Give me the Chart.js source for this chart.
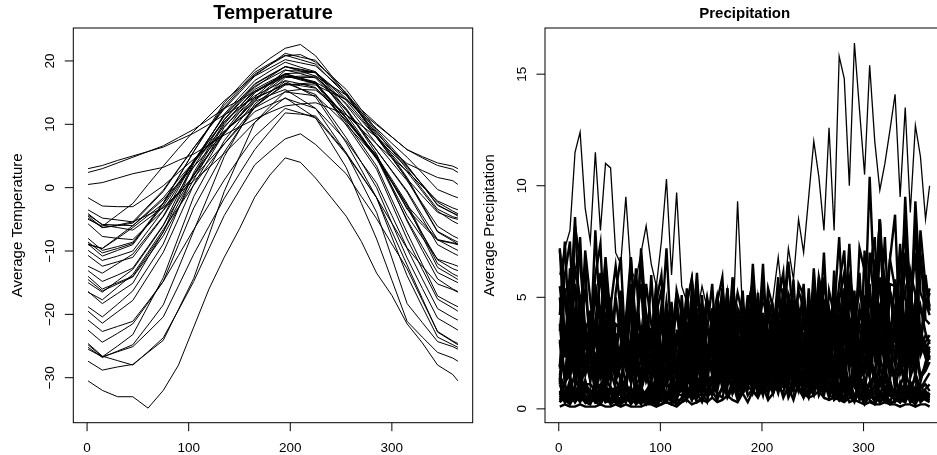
<!DOCTYPE html>
<html>
<head>
<meta charset="utf-8">
<title>Canadian weather: temperature and precipitation</title>
<script src="https://cdn.jsdelivr.net/npm/chart.js@4.4.1/dist/chart.umd.min.js"></script>
<style>
  html, body { margin: 0; padding: 0; background: #fff; overflow: hidden; width: 937px; height: 455px; }
  .panel { position: absolute; top: 0; height: 455px; }
  #tempPanel { left: 0; width: 474px; }
  #precPanel { left: 473px; width: 472px; }
</style>
</head>
<body>
<div class="panel" id="tempPanel"><canvas id="tempChart"></canvas></div>
<div class="panel" id="precPanel"><canvas id="precChart"></canvas></div>

<script>
// ---- data (35 stations) ----

const STATIONS = ['St. Johns', 'Halifax', 'Sydney', 'Yarmouth', 'Charlottetown', 'Fredericton',
  'Scheffervll', 'Arvida', 'Bagottville', 'Quebec', 'Sherbrooke', 'Montreal', 'Ottawa',
  'Toronto', 'London', 'Thunder Bay', 'Winnipeg', 'The Pas', 'Churchill', 'Regina',
  'Pr. Albert', 'Uranium City', 'Edmonton', 'Calgary', 'Kamloops', 'Vancouver', 'Victoria',
  'Pr. George', 'Pr. Rupert', 'Whitehorse', 'Dawson', 'Yellowknife', 'Iqaluit', 'Inuvik', 'Resolute'];

// day of year for the temperature readings
const T_DAYS = [1, 15, 30, 45, 60, 75, 90, 105, 120, 135, 150, 165, 180, 195, 210, 225, 240, 255, 270, 285, 300, 315, 330, 345, 360, 365];

// average temperature (deg C), one row per station, same order as STATIONS
const TEMP = [
  [-3.5,-4.8,-5.1,-5.4,-4.3,-3.2,-1.0,1.1,3.2,5.4,7.8,10.3,12.8,15.2,15.5,15.4,13.5,11.6,9.2,6.9,4.7,2.6,0.2,-2.1,-3.2,-3.5],
  [-4.3,-5.8,-5.9,-6.0,-4.0,-1.9,0.7,3.3,6.0,8.7,11.3,13.9,16.0,18.0,18.1,18.2,16.2,14.1,11.4,8.6,6.0,3.4,0.4,-2.7,-4.0,-4.3],
  [-4.1,-5.9,-6.3,-6.7,-4.9,-3.1,-0.8,1.6,4.3,6.9,9.8,12.7,15.0,17.4,17.4,17.4,15.4,13.3,10.6,7.9,5.5,3.2,0.5,-2.3,-3.7,-4.1],
  [-1.6,-2.9,-3.0,-3.0,-1.4,0.3,2.4,4.5,6.7,8.9,10.9,12.9,14.6,16.2,16.4,16.6,15.3,13.9,11.6,9.3,7.0,4.8,2.3,-0.3,-1.3,-1.6],
  [-5.7,-7.7,-8.0,-8.2,-5.9,-3.6,-0.9,1.9,5.2,8.5,11.4,14.3,16.4,18.5,18.4,18.2,16.0,13.8,10.9,7.9,5.2,2.5,-0.6,-3.7,-5.3,-5.7],
  [-8.0,-9.9,-9.3,-8.6,-5.8,-2.9,0.6,4.0,7.4,10.7,13.3,15.8,17.5,19.1,18.7,18.2,15.7,13.1,10.0,6.9,4.0,1.1,-2.5,-6.1,-7.6,-8.0],
  [-20.9,-22.7,-21.9,-21.1,-18.0,-14.8,-10.7,-6.6,-2.7,1.2,4.7,8.1,10.3,12.5,11.8,11.0,8.2,5.3,1.9,-1.6,-5.6,-9.6,-14.4,-19.1,-20.5,-20.9],
  [-14.0,-16.0,-15.0,-14.0,-10.5,-7.0,-2.5,2.0,6.0,10.0,12.8,15.5,16.8,18.0,17.3,16.5,13.8,11.0,8.0,5.0,1.3,-2.5,-7.3,-12.0,-13.6,-14.0],
  [-14.5,-16.3,-15.2,-14.1,-10.9,-7.6,-3.2,1.3,5.4,9.5,12.3,15.0,16.5,17.9,17.2,16.4,13.7,10.9,7.7,4.5,0.9,-2.8,-7.7,-12.6,-14.0,-14.5],
  [-10.7,-12.4,-11.7,-11.0,-7.8,-4.6,-0.7,3.3,7.0,10.8,13.5,16.3,17.7,19.1,18.4,17.6,15.0,12.5,9.2,5.9,2.6,-0.7,-4.9,-9.0,-10.3,-10.7],
  [-9.9,-11.5,-10.8,-10.0,-6.8,-3.6,0.3,4.2,7.8,11.3,13.7,16.0,17.3,18.6,18.0,17.3,14.8,12.2,9.0,5.9,2.7,-0.5,-4.4,-8.2,-9.5,-9.9],
  [-8.6,-10.3,-9.6,-8.8,-5.6,-2.4,1.7,5.7,9.6,13.4,16.0,18.6,20.4,22.0,22.6,20.8,17.8,14.8,11.6,8.3,5.0,1.6,-2.7,-6.9,-8.2,-8.6],
  [-8.9,-10.8,-9.9,-9.0,-5.8,-2.5,1.6,5.7,9.4,13.0,15.6,18.2,19.6,20.9,20.2,19.5,17.0,14.6,11.3,8.0,4.7,1.3,-2.9,-7.0,-8.4,-8.9],
  [-4.5,-6.3,-5.9,-5.4,-2.9,-0.4,3.0,6.3,9.5,12.6,15.3,17.9,19.4,20.8,21.0,19.8,17.7,15.5,12.3,9.1,6.3,3.5,0.4,-2.8,-4.0,-4.5],
  [-4.8,-6.3,-6.0,-5.6,-3.1,-0.6,2.9,6.3,9.4,12.4,15.0,17.6,18.9,20.2,19.7,19.2,17.1,15.0,11.9,8.8,5.9,2.9,-0.3,-3.4,-4.6,-4.8],
  [-13.1,-14.8,-13.8,-12.7,-9.3,-5.9,-1.9,2.1,5.4,8.7,11.2,13.7,15.7,17.6,17.1,16.6,13.9,11.1,7.9,4.7,0.8,-3.2,-7.3,-11.4,-12.8,-13.1],
  [-16.4,-18.3,-16.7,-15.1,-11.0,-7.0,-1.6,3.8,7.7,11.6,14.3,16.9,18.4,19.8,19.0,18.3,15.4,12.4,8.9,5.3,0.0,-5.3,-9.9,-14.4,-16.0,-16.4],
  [-19.5,-21.4,-19.6,-17.8,-14.0,-10.2,-4.9,0.5,4.6,8.7,11.9,15.0,16.4,17.7,17.0,16.4,13.2,9.9,6.4,2.9,-2.6,-8.1,-12.9,-17.6,-19.0,-19.5],
  [-24.8,-26.7,-25.9,-25.1,-22.8,-20.4,-15.5,-10.5,-6.1,-1.7,2.2,6.0,8.9,11.8,11.6,11.3,8.4,5.5,2.0,-1.6,-6.9,-12.2,-17.5,-22.8,-24.3,-24.8],
  [-15.0,-16.5,-14.7,-12.9,-9.5,-6.0,-1.0,4.1,7.8,11.4,13.9,16.4,17.8,19.1,18.6,18.1,14.9,11.6,8.2,4.7,-0.2,-5.1,-9.3,-13.4,-14.6,-15.0],
  [-18.8,-20.4,-18.4,-16.3,-12.6,-8.9,-3.3,2.4,6.4,10.3,12.8,15.2,16.6,17.9,17.3,16.7,13.5,10.3,6.9,3.4,-1.9,-7.1,-12.1,-17.1,-18.4,-18.8],
  [-22.5,-24.4,-23.0,-21.5,-18.2,-14.8,-9.0,-3.2,1.2,5.6,9.2,12.7,14.6,16.5,15.6,14.7,11.3,7.9,4.0,0.0,-5.6,-11.1,-15.9,-20.6,-22.0,-22.5],
  [-12.4,-13.5,-12.0,-10.5,-7.5,-4.5,-0.1,4.3,7.4,10.4,12.5,14.5,15.7,16.9,16.4,15.8,13.2,10.6,7.7,4.8,0.2,-4.4,-7.9,-11.3,-12.1,-12.4],
  [-9.0,-9.6,-8.0,-6.3,-4.4,-2.5,0.8,4.1,6.9,9.7,11.9,14.0,15.2,16.4,16.1,15.7,13.2,10.6,7.9,5.1,0.9,-3.4,-5.9,-8.3,-8.8,-9.0],
  [-5.0,-6.1,-4.3,-2.5,0.5,3.4,6.2,8.9,11.3,13.7,15.7,17.7,19.4,21.2,20.6,20.1,17.5,14.8,11.4,7.9,4.7,1.4,-1.3,-3.9,-4.8,-5.0],
  [2.4,3.0,3.9,4.8,5.7,6.6,7.9,9.2,10.8,12.5,13.8,15.2,16.3,17.5,17.6,17.6,16.1,14.6,12.3,10.1,8.0,6.0,4.7,3.5,2.9,2.4],
  [3.0,3.5,4.3,5.0,5.7,6.4,7.5,8.6,10.0,11.5,12.8,14.2,15.2,16.3,16.3,16.2,15.0,13.9,11.9,9.9,8.0,6.0,4.9,3.9,3.4,3.0],
  [-8.9,-9.6,-7.8,-6.0,-3.8,-1.6,1.3,4.1,6.5,8.9,10.8,12.6,13.9,15.1,14.8,14.5,12.3,10.0,7.4,4.7,1.0,-2.8,-5.5,-8.2,-8.7,-8.9],
  [0.5,0.8,1.5,2.2,2.7,3.2,4.3,5.3,6.8,8.3,9.6,10.8,11.9,12.9,13.2,13.4,12.5,11.5,9.8,8.0,5.9,3.8,2.7,1.6,1.1,0.5],
  [-16.5,-17.7,-15.7,-13.7,-10.2,-6.6,-3.1,0.4,3.7,6.9,9.5,12.0,13.1,14.1,13.3,12.5,10.0,7.4,4.0,0.7,-4.4,-9.5,-12.4,-15.2,-16.1,-16.5],
  [-25.5,-26.7,-25.0,-23.2,-18.7,-14.2,-7.8,-1.4,3.0,7.4,10.5,13.6,14.6,15.5,14.0,12.5,9.0,5.5,0.8,-3.9,-11.1,-18.3,-21.3,-24.3,-25.1,-25.5],
  [-25.2,-26.8,-25.8,-24.8,-21.7,-18.5,-12.7,-6.8,-1.0,4.9,9.1,13.2,15.0,16.8,15.6,14.3,10.7,7.1,2.8,-1.6,-7.8,-13.9,-18.8,-23.6,-24.8,-25.2],
  [-24.6,-26.6,-27.3,-28.0,-25.9,-23.7,-19.3,-14.8,-9.6,-4.4,-0.4,3.6,5.7,7.7,8.5,6.8,4.5,2.2,-1.4,-4.9,-8.9,-12.8,-17.8,-22.7,-24.2,-24.6],
  [-27.4,-28.8,-28.3,-27.9,-26.0,-24.1,-19.2,-14.3,-7.5,-0.6,4.9,10.3,12.3,14.2,12.6,11.0,7.1,3.2,-2.5,-8.1,-14.6,-21.1,-23.6,-26.0,-26.9,-27.4],
  [-30.5,-32.0,-33.0,-33.0,-34.8,-32.0,-28.0,-22.0,-16.0,-11.0,-6.5,-1.5,2.0,4.7,4.0,1.5,-1.5,-4.5,-8.5,-13.5,-17.0,-21.5,-24.5,-28.0,-29.5,-30.5]
];

// day of year for the precipitation readings
const P_DAYS = [1,6,11,16,21,26,31,36,41,46,51,56,61,66,71,76,81,86,91,96,101,106,111,116,121,126,131,136,141,146,
  151,156,161,166,171,176,181,186,191,196,201,206,211,216,221,226,231,236,241,246,251,256,261,266,271,276,281,286,291,296,
  301,306,311,316,321,326,331,336,341,346,351,356,361,365];

// average precipitation (mm/day), one row per station, same order as STATIONS
const PREC = [
  [7.2,2.9,4.3,8.6,3.4,5.3,3.2,6.0,7.4,2.3,4.6,6.4,4.4,2.0,5.6,3.2,6.8,2.4,3.2,5.6,2.1,4.2,1.8,5.3,4.3,2.6,1.7,5.0,4.0,2.3,1.9,3.2,5.4,2.9,4.5,1.6,3.8,1.5,2.3,4.5,1.8,2.8,2.7,4.9,6.1,1.9,3.8,5.3,4.5,2.1,5.7,3.3,7.0,2.5,4.3,7.7,2.9,5.8,2.4,7.2,6.2,3.8,2.4,7.2,5.8,3.4,3.0,5.0,8.5,4.5,7.0,2.5,6.0,4.4],
  [4.2,7.5,2.8,5.6,2.4,7.1,4.9,3.0,1.9,5.7,4.6,2.7,2.4,4.0,6.8,3.6,5.6,2.0,6.0,2.4,3.6,7.2,2.8,4.4,2.5,4.7,5.8,1.8,3.6,5.0,3.6,1.7,4.6,2.6,5.6,2.0,2.9,5.1,1.9,3.8,1.6,4.8,4.3,2.6,1.7,5.0,4.0,2.3,1.9,3.2,5.4,2.9,4.5,1.6,6.2,2.5,3.7,7.4,2.9,4.5,3.4,6.2,7.7,2.4,4.8,6.7,5.4,2.5,6.9,3.9,8.3,2.9,4.5,5.2],
  [7.1,5.1,2.6,8.2,6.6,3.6,2.8,8.0,3.8,6.6,2.4,5.2,6.8,2.3,5.4,2.7,7.2,4.1,2.8,4.8,6.0,2.0,3.2,5.2,1.7,4.6,3.0,5.6,3.3,2.0,3.3,2.1,5.4,2.7,1.8,4.5,3.9,2.8,1.4,4.5,3.6,2.0,1.9,5.3,2.5,4.3,1.6,3.4,5.6,1.9,4.4,2.2,5.9,3.3,3.3,5.6,7.1,2.4,3.8,6.1,2.5,7.0,4.5,8.5,5.0,3.0,5.8,3.7,9.5,4.8,3.2,8.0,5.5,4.6],
  [5.5,3.4,2.1,6.3,5.0,2.9,2.2,3.6,6.1,3.2,5.0,1.8,5.3,2.1,3.2,6.3,2.5,3.9,2.3,4.3,5.3,1.7,3.3,4.6,3.3,1.5,4.2,2.4,5.1,1.8,2.6,4.6,1.7,3.5,1.5,4.4,3.4,2.1,1.3,3.9,3.1,1.8,1.7,2.8,4.8,2.5,3.9,1.4,5.0,2.0,3.0,5.9,2.3,3.6,2.7,4.9,6.1,1.9,3.8,5.3,5.0,2.3,6.3,3.6,7.7,2.7,4.1,7.4,2.8,5.5,2.3,6.9,4.0,3.8],
  [1.9,5.4,2.6,4.5,1.6,3.5,4.2,1.4,3.4,1.7,4.5,2.5,2.0,3.4,4.2,1.4,2.2,3.6,1.4,3.9,2.5,4.8,2.8,1.7,3.3,2.1,5.4,2.7,1.8,4.5,4.2,3.0,1.5,4.8,3.9,2.1,1.6,4.4,2.1,3.6,1.3,2.9,4.4,1.5,3.5,1.7,4.6,2.6,2.2,3.7,4.7,1.6,2.5,4.0,1.8,4.9,3.2,6.0,3.5,2.1,4.1,2.6,6.7,3.3,2.2,5.6,5.5,3.9,2.0,6.2,5.1,2.7,3.3,3.0],
  [1.9,3.1,5.3,2.8,4.3,1.6,4.4,1.7,2.6,5.2,2.0,3.2,2.2,4.0,5.0,1.6,3.1,4.3,3.1,1.4,3.9,2.2,4.8,1.7,2.9,5.1,1.9,3.8,1.6,4.8,3.6,2.2,1.4,4.2,3.4,2.0,1.7,2.8,4.8,2.5,3.9,1.4,4.4,1.7,2.6,5.2,2.0,3.2,2.0,3.8,4.6,1.5,2.9,4.1,3.4,1.6,4.3,2.5,5.3,1.9,3.2,5.6,2.1,4.2,1.8,5.3,4.4,2.7,1.7,5.1,4.1,2.4,3.0,3.3],
  [1.5,1.0,2.5,1.3,0.8,2.1,1.8,1.3,0.7,2.1,1.7,0.9,0.9,2.6,1.2,2.1,0.8,1.7,2.4,0.8,1.9,1.0,2.6,1.4,1.4,2.4,3.0,1.0,1.6,2.6,1.5,4.2,2.7,5.1,3.0,1.8,4.0,2.5,6.5,3.2,2.2,5.4,4.5,3.2,1.6,5.1,4.2,2.2,1.9,5.4,2.6,4.5,1.6,3.5,4.2,1.4,3.4,1.7,4.5,2.5,1.7,2.9,3.6,1.2,1.9,3.1,0.8,2.1,1.4,2.6,1.5,0.9,1.3,1.6],
  [1.8,3.3,4.0,1.3,2.5,3.5,2.3,1.1,2.9,1.7,3.6,1.3,1.9,3.4,1.3,2.5,1.1,3.2,2.9,1.8,1.1,3.3,2.6,1.5,1.6,2.7,4.6,2.4,3.8,1.4,4.5,1.8,2.7,5.4,2.1,3.3,2.5,4.6,5.6,1.8,3.5,4.9,3.7,1.7,4.8,2.7,5.8,2.0,2.7,4.8,1.8,3.6,1.5,4.5,3.5,2.2,1.4,4.1,3.2,1.9,1.6,2.6,4.4,2.3,3.6,1.3,4.1,1.6,2.4,4.9,1.9,3.0,2.4,2.8],
  [3.8,1.3,3.0,1.5,4.0,2.3,1.4,2.4,3.0,1.0,1.6,2.6,1.1,2.9,1.9,3.6,2.1,1.3,2.4,1.5,4.0,2.0,1.3,3.3,3.8,2.7,1.4,4.3,3.5,1.9,1.8,5.1,2.4,4.2,1.5,3.3,5.3,1.8,4.2,2.1,5.6,3.2,2.4,4.1,5.1,1.7,2.7,4.4,1.6,4.3,2.8,5.3,3.1,1.9,3.0,1.9,4.9,2.4,1.6,4.1,3.9,2.8,1.4,4.5,3.6,2.0,1.6,4.6,2.2,3.8,1.4,3.0,2.9,2.2],
  [3.1,1.4,3.9,2.2,4.8,1.7,2.3,4.0,1.5,3.0,1.3,3.8,3.6,2.2,1.4,4.2,3.4,2.0,1.6,2.7,4.6,2.4,3.8,1.4,5.1,2.0,3.1,6.1,2.4,3.7,2.6,4.8,5.9,1.9,3.7,5.2,4.2,1.9,5.3,3.0,6.5,2.3,3.3,5.9,2.2,4.4,1.9,5.6,5.1,3.1,2.0,5.9,4.7,2.7,1.9,3.2,5.4,2.9,4.5,1.6,5.0,2.0,3.0,5.9,2.3,3.6,2.3,4.3,5.3,1.7,3.3,4.6,3.4,2.9],
  [1.9,3.2,4.1,1.4,2.2,3.5,1.2,3.2,2.1,3.9,2.3,1.4,2.9,1.8,4.7,2.3,1.6,3.9,3.9,2.8,1.4,4.5,3.6,2.0,1.9,5.4,2.6,4.5,1.6,3.5,5.6,1.9,4.4,2.2,5.9,3.3,2.7,4.6,5.7,1.9,3.0,4.9,2.0,5.5,3.5,6.6,3.9,2.3,3.9,2.5,6.3,3.2,2.1,5.3,4.2,3.0,1.5,4.8,3.9,2.1,1.9,5.3,2.5,4.3,1.6,3.4,4.5,1.5,3.6,1.8,4.8,2.7,2.6,3.1],
  [1.3,3.5,2.3,4.3,2.5,1.5,2.4,1.5,4.0,2.0,1.3,3.3,3.5,2.5,1.3,4.0,3.3,1.8,1.5,4.3,2.0,3.5,1.3,2.8,4.1,1.4,3.2,1.6,4.3,2.4,2.0,3.4,4.2,1.4,2.2,3.6,1.5,4.1,2.6,4.9,2.9,1.7,3.3,2.1,5.4,2.7,1.8,4.5,4.1,2.9,1.5,4.6,3.8,2.0,1.5,4.3,2.0,3.5,1.3,2.8,4.7,1.6,3.7,1.9,5.0,2.8,2.0,3.4,4.2,1.4,2.2,3.6,2.7,2.3],
  [3.0,1.2,1.8,3.6,1.4,2.2,1.3,2.3,2.9,0.9,1.8,2.5,2.3,1.1,2.9,1.7,3.6,1.3,2.1,3.7,1.4,2.8,1.2,3.5,3.4,2.1,1.3,3.9,3.1,1.8,1.8,3.0,5.1,2.7,4.2,1.5,4.4,1.7,2.6,5.2,2.0,3.2,2.0,3.6,4.5,1.4,2.8,3.9,3.2,1.5,4.1,2.3,4.9,1.7,2.3,4.0,1.5,3.0,1.3,3.8,3.4,2.1,1.3,3.9,3.1,1.8,1.4,2.4,4.1,2.2,3.4,1.2,2.1,2.6],
  [1.2,3.4,1.6,2.8,1.0,2.2,2.7,0.9,2.2,1.1,2.9,1.6,1.4,2.4,3.0,1.0,1.6,2.6,1.1,3.1,2.0,3.7,2.2,1.3,2.6,1.7,4.3,2.2,1.4,3.6,3.4,2.4,1.2,3.8,3.1,1.7,1.4,4.1,1.9,3.4,1.2,2.6,3.9,1.3,3.1,1.6,4.2,2.3,1.7,2.9,3.6,1.2,1.9,3.1,1.0,2.8,1.8,3.4,2.0,1.2,2.8,1.8,4.5,2.3,1.5,3.8,3.1,2.2,1.1,3.5,2.9,1.5,1.9,2.4],
  [1.5,2.9,3.5,1.1,2.2,3.1,2.2,1.0,2.8,1.6,3.4,1.2,2.3,4.0,1.5,3.0,1.3,3.8,3.5,2.2,1.4,4.1,3.2,1.9,1.5,2.5,4.3,2.3,3.5,1.3,4.5,1.8,2.7,5.4,2.1,3.3,1.8,3.3,4.0,1.3,2.5,3.5,3.2,1.5,4.1,2.3,4.9,1.7,2.6,4.6,1.7,3.5,1.5,4.4,3.4,2.1,1.3,3.9,3.1,1.8,1.8,3.0,5.1,2.7,4.2,1.5,4.2,1.7,2.5,5.0,2.0,3.1,2.3,2.7],
  [0.7,1.2,1.5,0.5,0.8,1.3,0.5,1.3,0.8,1.5,0.9,0.5,1.4,0.9,2.3,1.2,0.8,2.0,1.8,1.3,0.7,2.1,1.7,0.9,1.4,3.9,1.8,3.2,1.2,2.5,4.2,1.4,3.4,1.7,4.5,2.5,1.8,3.1,3.9,1.3,2.1,3.4,1.4,3.9,2.5,4.8,2.8,1.7,3.2,2.0,5.2,2.6,1.7,4.4,2.8,2.0,1.0,3.2,2.6,1.4,0.8,2.4,1.1,2.0,0.7,1.5,1.5,0.5,1.2,0.6,1.6,0.9,1.1,0.8],
  [0.7,0.3,0.8,0.5,1.0,0.4,0.5,1.0,0.4,0.7,0.3,0.9,0.9,0.6,0.4,1.1,0.8,0.5,0.7,1.2,2.0,1.1,1.7,0.6,2.7,1.1,1.6,3.2,1.3,2.0,2.1,3.9,4.8,1.5,3.0,4.2,2.8,1.3,3.5,2.0,4.3,1.5,2.2,3.8,1.4,2.9,1.2,3.6,2.2,1.4,0.9,2.6,2.0,1.2,0.6,1.0,1.7,0.9,1.4,0.5,1.2,0.5,0.7,1.4,0.6,0.9,0.4,0.8,1.0,0.3,0.6,0.8,0.5,0.7],
  [0.7,0.4,1.1,0.5,0.4,0.9,0.8,0.6,0.3,1.0,0.8,0.4,0.4,1.0,0.5,0.8,0.3,0.7,1.2,0.4,1.0,0.5,1.3,0.7,0.8,1.4,1.8,0.6,1.0,1.6,1.0,2.8,1.8,3.4,2.0,1.2,2.5,1.6,4.1,2.1,1.4,3.5,3.4,2.4,1.2,3.8,3.1,1.7,1.1,3.1,1.4,2.5,0.9,2.0,1.8,0.6,1.4,0.7,1.9,1.1,0.6,1.1,1.4,0.5,0.7,1.2,0.4,1.0,0.6,1.2,0.7,0.4,0.6,0.7],
  [0.7,0.4,0.3,0.8,0.6,0.4,0.3,0.5,0.9,0.5,0.7,0.3,0.9,0.4,0.5,1.1,0.4,0.7,0.6,1.0,1.3,0.4,0.8,1.1,1.1,0.5,1.4,0.8,1.7,0.6,1.4,2.4,0.9,1.8,0.8,2.3,2.3,1.4,0.9,2.7,2.2,1.3,1.2,2.0,3.4,1.8,2.8,1.0,3.0,1.2,1.8,3.6,1.4,2.2,1.1,2.0,2.4,0.8,1.5,2.1,1.3,0.6,1.7,1.0,2.0,0.7,0.6,1.1,0.4,0.8,0.4,1.1,0.6,0.5],
  [0.8,0.3,0.6,0.3,0.8,0.5,0.4,0.6,0.8,0.3,0.4,0.7,0.3,0.8,0.5,1.0,0.6,0.4,0.8,0.5,1.3,0.6,0.4,1.1,2.1,1.5,0.8,2.4,2.0,1.1,1.5,4.3,2.0,3.5,1.3,2.8,3.0,1.0,2.4,1.2,3.2,1.8,0.9,1.6,2.0,0.7,1.0,1.7,0.6,1.5,1.0,1.9,1.1,0.7,0.8,0.5,1.3,0.6,0.4,1.1,0.6,0.4,0.2,0.6,0.5,0.3,0.3,0.9,0.4,0.7,0.3,0.6,0.5,0.4],
  [0.4,0.6,1.0,0.5,0.8,0.3,0.8,0.3,0.5,0.9,0.4,0.6,0.4,0.8,1.0,0.3,0.6,0.8,0.7,0.3,0.8,0.5,1.0,0.4,1.1,1.9,0.7,1.4,0.6,1.8,2.9,1.8,1.1,3.3,2.6,1.5,1.4,2.4,4.1,2.2,3.4,1.2,2.9,1.1,1.7,3.4,1.3,2.1,1.0,1.8,2.2,0.7,1.4,2.0,0.8,0.4,1.0,0.6,1.2,0.4,0.5,0.8,0.3,0.6,0.3,0.8,0.8,0.5,0.3,0.9,0.7,0.4,0.5,0.6],
  [0.3,0.8,0.5,1.0,0.6,0.4,0.6,0.4,0.9,0.5,0.3,0.8,0.8,0.6,0.3,1.0,0.8,0.4,0.3,0.9,0.4,0.7,0.3,0.6,1.2,0.4,1.0,0.5,1.3,0.7,0.8,1.4,1.8,0.6,1.0,1.6,0.9,2.5,1.6,3.1,1.8,1.1,2.1,1.3,3.4,1.7,1.1,2.9,2.1,1.5,0.8,2.4,2.0,1.1,0.6,1.7,0.8,1.4,0.5,1.1,1.4,0.5,1.1,0.5,1.4,0.8,0.4,0.7,0.9,0.3,0.5,0.8,0.6,0.5],
  [0.6,1.1,0.4,0.8,0.4,1.1,0.8,0.5,0.3,0.9,0.7,0.4,0.3,0.5,0.9,0.5,0.7,0.3,1.1,0.4,0.6,1.3,0.5,0.8,1.1,2.0,2.4,0.8,1.5,2.1,3.1,1.4,3.9,2.2,4.8,1.7,2.6,4.6,1.7,3.5,1.5,4.4,2.9,1.8,1.1,3.3,2.6,1.5,0.8,1.3,2.2,1.2,1.8,0.7,0.9,0.4,0.5,1.1,0.4,0.7,0.4,0.8,1.0,0.3,0.6,0.8,0.7,0.3,0.8,0.5,1.0,0.4,0.6,0.7],
  [0.6,0.4,0.2,0.6,0.5,0.3,0.2,0.7,0.3,0.6,0.2,0.4,0.9,0.3,0.7,0.4,1.0,0.5,0.6,1.0,1.2,0.4,0.6,1.0,0.9,2.5,1.6,3.1,1.8,1.1,3.0,1.9,4.9,2.4,1.6,4.1,2.9,2.1,1.1,3.4,2.7,1.5,1.0,2.7,1.3,2.2,0.8,1.8,2.3,0.8,1.8,0.9,2.4,1.4,0.4,0.6,0.8,0.3,0.4,0.7,0.2,0.6,0.4,0.7,0.4,0.2,0.4,0.3,0.7,0.4,0.2,0.6,0.4,0.3],
  [1.4,0.5,0.8,1.6,0.6,1.0,0.5,0.9,1.1,0.4,0.7,1.0,0.6,0.3,0.7,0.4,0.9,0.3,0.5,1.0,0.4,0.7,0.3,0.9,1.2,0.7,0.5,1.4,1.1,0.6,0.7,1.2,2.0,1.1,1.7,0.6,1.5,0.6,0.9,1.8,0.7,1.1,0.7,1.3,1.6,0.5,1.0,1.4,1.1,0.5,1.4,0.8,1.7,0.6,0.5,1.0,0.4,0.7,0.3,0.9,1.0,0.6,0.4,1.2,1.0,0.6,0.6,1.0,1.7,0.9,1.4,0.5,0.9,1.1],
  [3.5,6.0,7.5,2.5,4.0,6.5,2.0,5.6,3.6,6.8,4.0,2.4,4.1,2.6,6.7,3.3,2.2,5.6,3.8,2.7,1.4,4.3,3.5,1.9,1.3,3.6,1.7,2.9,1.1,2.3,2.4,0.8,1.9,1.0,2.6,1.4,0.8,1.4,1.8,0.6,1.0,1.6,0.7,1.8,1.2,2.2,1.3,0.8,2.0,1.3,3.2,1.6,1.1,2.7,5.2,3.7,1.9,5.9,4.8,2.6,3.7,10.4,4.9,8.5,3.1,6.7,8.7,2.9,7.0,3.5,9.3,5.2,4.6,5.4],
  [5.0,2.3,6.3,3.6,7.7,2.7,3.0,5.3,2.0,4.0,1.7,5.0,3.1,1.9,1.2,3.6,2.9,1.7,0.8,1.4,2.4,1.3,2.0,0.7,1.8,0.7,1.1,2.2,0.8,1.3,0.6,1.2,1.4,0.5,0.9,1.3,0.7,0.3,0.8,0.5,1.0,0.4,0.7,1.3,0.5,1.0,0.4,1.2,1.6,1.0,0.6,1.8,1.4,0.8,1.6,2.6,4.4,2.3,3.6,1.3,7.1,2.8,4.2,8.5,3.3,5.2,3.4,6.4,7.8,2.5,4.9,6.9,4.8,4.2],
  [1.1,3.1,1.4,2.5,0.9,2.0,2.1,0.7,1.7,0.8,2.2,1.3,0.8,1.4,1.8,0.6,1.0,1.6,0.6,1.5,1.0,1.9,1.1,0.7,1.7,1.1,2.7,1.4,0.9,2.3,2.9,2.1,1.1,3.4,2.7,1.5,1.1,3.2,1.5,2.7,1.0,2.1,3.2,1.1,2.5,1.3,3.4,1.9,1.3,2.3,2.9,1.0,1.5,2.5,1.0,2.8,1.8,3.4,2.0,1.2,2.2,1.4,3.6,1.8,1.2,3.0,2.8,2.0,1.0,3.2,2.6,1.4,1.7,2.1],
  [6.0,7.2,8.0,11.5,12.4,9.0,7.5,11.5,8.0,11.0,10.8,7.0,6.5,9.5,6.2,5.8,7.0,8.2,6.5,5.5,7.5,10.3,6.0,9.7,5.5,4.8,6.0,4.2,5.5,4.5,4.0,5.2,3.8,4.5,3.2,9.3,4.2,3.5,5.0,3.6,4.8,3.8,5.0,6.8,4.5,7.2,5.8,8.5,7.0,9.5,12.0,10.4,8.0,12.6,8.0,15.8,14.8,10.0,16.4,13.4,10.5,15.4,12.0,9.8,11.0,12.5,14.1,9.5,13.5,8.8,12.7,11.3,8.5,10.0],
  [0.4,0.8,1.0,0.3,0.6,0.8,0.6,0.3,0.7,0.4,0.9,0.3,0.4,0.6,0.2,0.5,0.2,0.6,0.4,0.2,0.2,0.5,0.4,0.2,0.3,0.5,0.9,0.5,0.7,0.3,1.5,0.6,0.9,1.8,0.7,1.1,0.9,1.7,2.1,0.7,1.3,1.8,1.4,0.7,1.8,1.0,2.2,0.8,1.0,1.8,0.7,1.3,0.6,1.7,1.0,0.6,0.4,1.2,1.0,0.6,0.4,0.6,1.0,0.5,0.8,0.3,0.9,0.4,0.5,1.1,0.4,0.7,0.5,0.6],
  [1.1,0.4,0.8,0.4,1.1,0.6,0.4,0.6,0.8,0.3,0.4,0.7,0.2,0.6,0.4,0.7,0.4,0.2,0.3,0.2,0.5,0.3,0.2,0.5,1.1,0.8,0.4,1.3,1.0,0.6,0.8,2.2,1.0,1.8,0.7,1.4,2.6,0.9,2.0,1.0,2.7,1.5,1.1,1.8,2.3,0.8,1.2,2.0,0.6,1.5,1.0,1.9,1.1,0.7,1.0,0.6,1.6,0.8,0.5,1.4,1.1,0.8,0.4,1.3,1.0,0.6,0.4,1.2,0.6,1.0,0.4,0.8,0.7,0.6],
  [0.3,0.5,0.9,0.5,0.7,0.3,0.8,0.3,0.5,0.9,0.4,0.6,0.3,0.5,0.6,0.2,0.4,0.6,0.4,0.2,0.6,0.3,0.7,0.2,0.5,1.0,0.4,0.7,0.3,0.9,1.2,0.7,0.5,1.4,1.1,0.6,0.7,1.2,2.0,1.1,1.7,0.6,2.1,0.8,1.3,2.5,1.0,1.5,0.8,1.4,1.8,0.6,1.1,1.5,1.2,0.6,1.5,0.9,1.9,0.7,0.6,1.1,0.4,0.8,0.4,1.1,0.7,0.4,0.3,0.8,0.6,0.4,0.5,0.4],
  [0.8,0.5,1.3,0.6,0.4,1.1,1.1,0.8,0.4,1.3,1.0,0.6,0.4,1.2,0.6,1.0,0.4,0.8,1.2,0.4,1.0,0.5,1.3,0.7,0.6,1.1,1.4,0.5,0.7,1.2,0.7,1.8,1.2,2.2,1.3,0.8,2.0,1.3,3.2,1.6,1.1,2.7,2.9,2.1,1.1,3.4,2.7,1.5,1.1,3.2,1.5,2.7,1.0,2.1,2.3,0.8,1.8,0.9,2.4,1.4,0.7,1.2,1.5,0.5,0.8,1.3,0.4,1.0,0.6,1.2,0.7,0.4,0.8,0.6],
  [0.5,0.8,0.3,0.6,0.3,0.8,0.5,0.3,0.2,0.6,0.5,0.3,0.2,0.4,0.7,0.4,0.6,0.2,0.6,0.2,0.4,0.7,0.3,0.4,0.4,0.7,0.8,0.3,0.5,0.7,0.8,0.4,1.0,0.6,1.2,0.4,1.0,1.8,0.7,1.3,0.6,1.7,1.7,1.0,0.7,2.0,1.6,0.9,0.5,0.9,1.5,0.8,1.3,0.5,1.1,0.4,0.6,1.3,0.5,0.8,0.4,0.7,0.8,0.3,0.5,0.7,0.6,0.3,0.7,0.4,0.9,0.3,0.5,0.4],
  [0.1,0.2,0.1,0.1,0.2,0.1,0.1,0.1,0.2,0.1,0.1,0.2,0.1,0.2,0.1,0.1,0.1,0.2,0.2,0.1,0.2,0.3,0.2,0.1,0.3,0.4,0.2,0.3,0.4,0.3,0.5,0.3,0.4,0.6,0.4,0.3,0.7,1.0,0.8,0.6,0.9,1.1,1.2,0.9,1.0,1.3,0.8,0.9,0.7,0.5,0.6,0.8,0.5,0.4,0.5,0.4,0.3,0.5,0.4,0.3,0.2,0.3,0.2,0.2,0.3,0.2,0.2,0.1,0.2,0.2,0.1,0.2,0.2,0.1]
];

// axis ticks as printed on the reference
const DAY_TICKS = [0, 100, 200, 300];
const TEMP_TICKS = [-30, -20, -10, 0, 10, 20];
const PREC_TICKS = [0, 5, 10, 15];

// ---- drawing ----

const FONT = '"Liberation Sans", Arimo, Arial, Helvetica, sans-serif';

function fmt(v) {
    return v < 0 ? '\u2212' + Math.abs(v) : String(v);
}

// R-like frame: box, outward ticks, rotated y labels, titles
const rFramePlugin = {
    id: 'rFrame',
    afterDraw(chart, args, opts) {
        const { ctx, chartArea: a } = chart;
        const xs = chart.scales.x, ys = chart.scales.y;
        ctx.save();
        ctx.strokeStyle = '#000';
        ctx.fillStyle = '#000';
        ctx.lineWidth = 1;

        ctx.strokeRect(a.left, a.top, a.right - a.left, a.bottom - a.top);

        // x axis
        ctx.beginPath();
        opts.xTicks.forEach(v => {
            const px = xs.getPixelForValue(v);
            ctx.moveTo(px, a.bottom);
            ctx.lineTo(px, a.bottom + 8.5);
        });
        ctx.stroke();
        ctx.font = '13.5px ' + FONT;
        ctx.textAlign = 'center';
        ctx.textBaseline = 'middle';
        opts.xTicks.forEach(v => ctx.fillText(fmt(v), xs.getPixelForValue(v), a.bottom + 25.5));

        // y axis
        ctx.beginPath();
        opts.yTicks.forEach(v => {
            const py = ys.getPixelForValue(v);
            ctx.moveTo(a.left, py);
            ctx.lineTo(a.left - 8.5, py);
        });
        ctx.stroke();
        opts.yTicks.forEach(v => {
            ctx.save();
            ctx.translate(a.left - 23, ys.getPixelForValue(v));
            ctx.rotate(-Math.PI / 2);
            ctx.fillText(fmt(v), 0, 0);
            ctx.restore();
        });

        // y axis title
        ctx.save();
        ctx.font = '15px ' + FONT;
        ctx.translate(a.left - 55.5, (a.top + a.bottom) / 2);
        ctx.rotate(-Math.PI / 2);
        ctx.fillText(opts.yTitle, 0, 0);
        ctx.restore();

        // main title
        ctx.font = 'bold ' + opts.titleSize + 'px ' + FONT;
        ctx.fillText(opts.title, (a.left + a.right) / 2, 13.5);
        ctx.restore();
    }
};

function makeChart(canvasId, days, rows, cfg) {
    const thin = cfg.thin || [];
    const datasets = rows.map((row, k) => ({
        label: STATIONS[k],
        data: row.map((v, i) => ({ x: days[i], y: v })),
        borderColor: '#000',
        borderWidth: thin.includes(STATIONS[k]) ? 1.3 : cfg.lineWidth,
        pointRadius: 0,
        tension: 0,
        fill: false
    }));

    return new Chart(document.getElementById(canvasId), {
        type: 'line',
        data: { datasets },
        options: {
            responsive: true,
            maintainAspectRatio: false,
            animation: false,
            events: [],
            layout: { padding: { top: 28, right: cfg.padRight, left: 0, bottom: 0 } },
            plugins: {
                legend: { display: false },
                tooltip: { enabled: false },
                title: { display: false },
                rFrame: {
                    xTicks: DAY_TICKS,
                    yTicks: cfg.yTicks,
                    yTitle: cfg.yTitle,
                    title: cfg.title,
                    titleSize: cfg.titleSize
                }
            },
            scales: {
                x: {
                    type: 'linear', min: -13.56, max: 379.56,
                    ticks: { display: false }, grid: { display: false }, border: { display: false },
                    afterFit: s => { s.height = 32.3; }
                },
                y: {
                    type: 'linear', min: cfg.yMin, max: cfg.yMax,
                    ticks: { display: false }, grid: { display: false }, border: { display: false },
                    afterFit: s => { s.width = cfg.leftW; }
                }
            }
        },
        plugins: [rFramePlugin]
    });
}

makeChart('tempChart', T_DAYS, TEMP, {
    yMin: -37.1, yMax: 25.2, yTicks: TEMP_TICKS,
    yTitle: 'Average Temperature', title: 'Temperature', titleSize: 20,
    leftW: 73.3, padRight: 1.3, lineWidth: 1
});

// the reference is drawn from daily values, so its band is almost solid;
// a heavier stroke stands in for that density here (the spiky top station stays thin)
makeChart('precChart', P_DAYS, PREC, {
    yMin: -0.62, yMax: 17.07, yTicks: PREC_TICKS,
    yTitle: 'Average Precipitation', title: 'Precipitation', titleSize: 15,
    leftW: 72, padRight: 0.6, lineWidth: 2.4, thin: ['Pr. Rupert']
});
</script>
</body>
</html>
